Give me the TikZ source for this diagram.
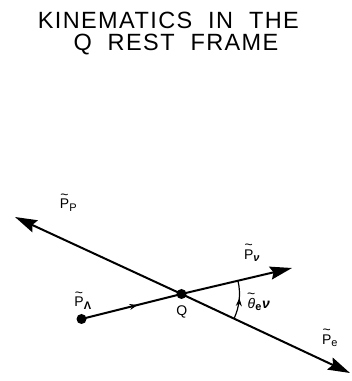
\documentclass[tikz,border=0pt]{standalone}
\usepackage{amsmath}
\usepackage{fontspec}
\setmainfont{Liberation Sans}
\usetikzlibrary{arrows.meta,decorations.markings}
\newcommand\tld{\mbox{\fontsize{14}{14}\selectfont\raisebox{-3pt}[5pt][0pt]{\char"007E}}}
\newcommand\tilP{\overset{\tld}{\mbox{P}}}
\newcommand\subsz[1]{\mbox{\fontsize{11}{11}\selectfont #1}}
\begin{document}
\begin{tikzpicture}[x=1pt,y=1pt,
  vec/.style={line width=2pt,-{Stealth[length=22pt,width=13pt,inset=3pt]}},
  dot/.style={circle,fill=black,inner sep=0pt,minimum size=10pt},
  lbl/.style={font=\fontsize{14}{14}\selectfont,inner sep=0pt},
  ttl/.style={font=\fontsize{23.5}{23.5}\selectfont\addfontfeatures{LetterSpace=6},anchor=base,inner sep=0pt},
  midarrow/.style={postaction={decorate},decoration={markings,mark=at position #1 with {\arrow{Stealth[length=8pt,width=6pt]}}}}]
\useasboundingbox (0,0) rectangle (352,381);
\node[ttl] (t1) at (168.3,352.7) {KINEMATICS\ \ IN\ \ THE};
\node[ttl] (t2) at (176,330) {Q\ \ REST\ \ FRAME};
\node[dot] (Q) at (181.5,87) {};
\node[dot] (L) at (81.5,62) {};
\coordinate (pp) at (15,164);
\coordinate (pe) at (350,8);
\coordinate (pn) at (292,113);
\draw[vec] (Q.center) -- (pp);
\draw[vec] (Q.center) -- (pe);
\draw[vec] (Q.center) -- (pn);
\draw[line width=2pt,midarrow=0.56] (L.center) -- (Q.center);
\draw[line width=1.2pt,midarrow=0.55] (Q.center) ++(-25.1:58) arc[start angle=-25.1,end angle=13.2,radius=58];
\node[lbl] (lpp) at (68.5,180.5) {$\tilP_{\subsz{P}}$};
\node[lbl] (lpl) at (83,82.5) {$\tilP_{\subsz{\textbf{Λ}}}$};
\node[lbl] (lpn) at (252,130) {$\tilP_{\subsz{\textbf{\textit{ν}}}}$};
\node[lbl] (lpe) at (330,45) {$\tilP_{\subsz{e}}$};
\node[lbl] (lth) at (258.5,81) {$\overset{\tld}{\mbox{\textit{θ}}}_{\subsz{\textbf{e}}}\mbox{\textbf{\textit{ν}}}$};
\node[lbl] (lq) at (181.7,69.3) {Q};
\end{tikzpicture}
\end{document}
